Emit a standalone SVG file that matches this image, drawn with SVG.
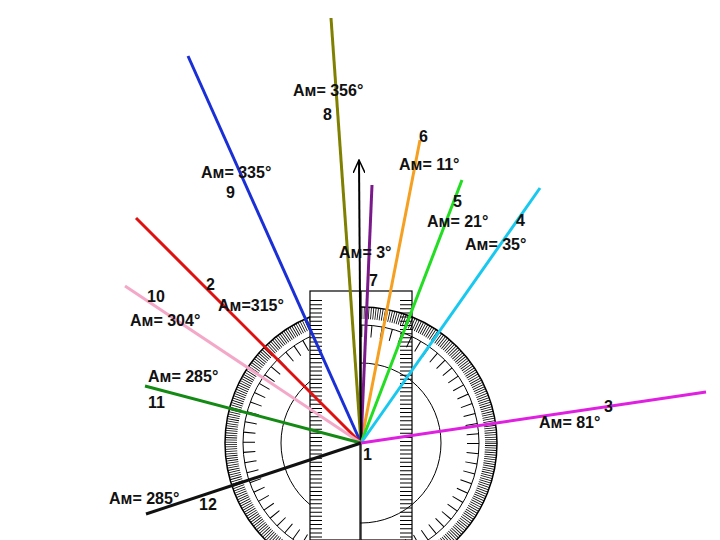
<svg xmlns="http://www.w3.org/2000/svg" width="720" height="540" viewBox="0 0 720 540">
<style>
.t{font-family:"Liberation Sans",Arial,sans-serif;font-size:16px;fill:#111;font-weight:bold}
.ray{stroke-width:3;fill:none}
</style>
<defs><marker id="ah" markerWidth="14" markerHeight="12" refX="13" refY="6" orient="auto" markerUnits="userSpaceOnUse"><path d="M0,0 L13,6 L0,12" fill="none" stroke="#000" stroke-width="1.5"/></marker></defs>
<rect width="720" height="540" fill="#fff"/>
<g id="protractor">
<circle cx="361" cy="443" r="136" fill="#fff" stroke="#000" stroke-width="1.5"/>
<circle cx="361" cy="443" r="130" fill="none" stroke="#000" stroke-width="12" stroke-dasharray="0.8 1.47"/>
<circle cx="361" cy="443" r="118" fill="none" stroke="#000" stroke-width="1"/>
<circle cx="361" cy="443" r="112" fill="none" stroke="#000" stroke-width="12" stroke-dasharray="1 8.77"/>
<circle cx="361" cy="443" r="80" fill="#fff" stroke="#000" stroke-width="1"/>
</g>
<g id="ruler">
<rect x="310" y="291" width="50" height="249" fill="#fff" stroke="#000" stroke-width="1.2"/>
<line x1="316" y1="300" x2="316" y2="540" stroke="#000" stroke-width="12" stroke-dasharray="1 3.15"/>
<rect x="361" y="291" width="51" height="249" fill="none" stroke="#000" stroke-width="1.2"/>
<line x1="406" y1="300" x2="406" y2="540" stroke="#000" stroke-width="12" stroke-dasharray="1 3.15"/>
</g>
<g id="connectors">
<line class="ray" x1="361" y1="443" x2="331" y2="18" stroke="#808000"/>
<line class="ray" x1="361" y1="443" x2="188" y2="56" stroke="#1a2fd6"/>
<line class="ray" x1="361" y1="443" x2="420" y2="140" stroke="#f5a020"/>
<line class="ray" x1="361" y1="443" x2="372" y2="185" stroke="#7a1a8a"/>
<line x1="361" y1="443" x2="359" y2="160" stroke="#000" stroke-width="2" marker-end="url(#ah)"/>
<line class="ray" x1="361" y1="443" x2="462" y2="180" stroke="#22dd22"/>
<line class="ray" x1="361" y1="443" x2="540" y2="188" stroke="#19c8ee"/>
<line class="ray" x1="361" y1="443" x2="136" y2="218" stroke="#e01010"/>
<line class="ray" x1="361" y1="443" x2="125" y2="286" stroke="#f4a8c8"/>
<line class="ray" x1="361" y1="443" x2="145" y2="386" stroke="#138a13"/>
<line class="ray" x1="361" y1="443" x2="146" y2="514" stroke="#111"/>
<line class="ray" x1="361" y1="443" x2="706" y2="392" stroke="#e020e0"/>
</g>
<g id="labels">
<text class="t" x="293" y="96">Ам= 356°</text><text class="t" x="323" y="120">8</text>
<text class="t" x="419" y="142">6</text><text class="t" x="399" y="170">Ам=  11°</text>
<text class="t" x="201" y="178">Ам= 335°</text><text class="t" x="226" y="198">9</text>
<text class="t" x="453" y="207">5</text><text class="t" x="427" y="227">Ам= 21°</text>
<text class="t" x="516" y="226">4</text><text class="t" x="465" y="250">Ам= 35°</text>
<text class="t" x="339" y="258">Ам= 3°</text><text class="t" x="369" y="286">7</text>
<text class="t" x="206" y="290">2</text><text class="t" x="147" y="302">10</text>
<text class="t" x="218" y="311">Ам=315°</text>
<text class="t" x="130" y="326">Ам= 304°</text>
<text class="t" x="148" y="382">Ам= 285°</text><text class="t" x="148" y="408">11</text>
<text class="t" x="604" y="412">3</text><text class="t" x="539" y="428">Ам= 81°</text>
<text class="t" x="363" y="460">1</text>
<text class="t" x="109" y="504">Ам= 285°</text><text class="t" x="199" y="510">12</text>
</g>
</svg>
